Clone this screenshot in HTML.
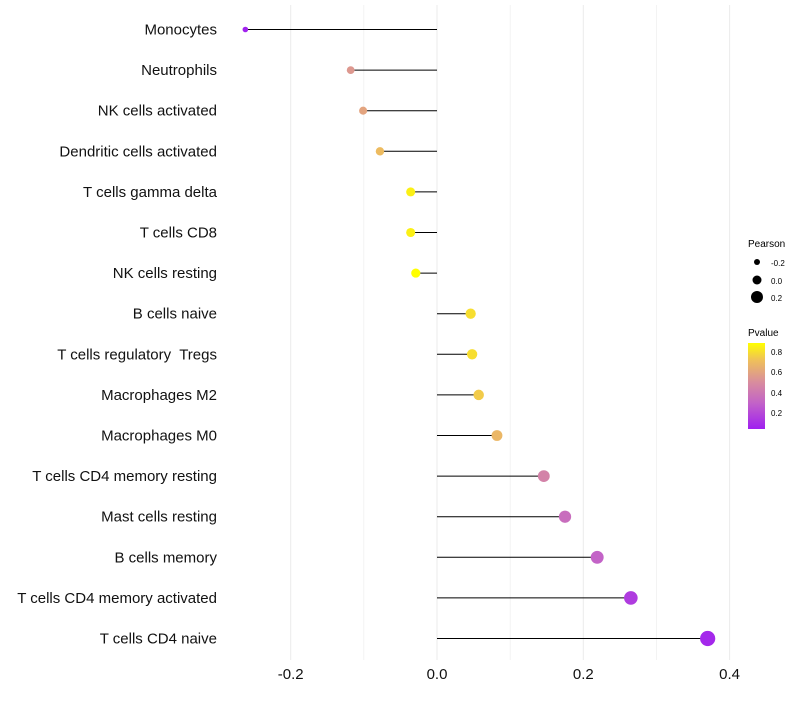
<!DOCTYPE html>
<html><head><meta charset="utf-8"><style>
body{margin:0;background:#fff;font-family:"Liberation Sans",sans-serif}
#ylabels text{white-space:pre}
</style></head><body>
<svg id="chart" width="800" height="700" xmlns="http://www.w3.org/2000/svg" font-family="Liberation Sans, sans-serif">
<defs><linearGradient id="pg" x1="0" y1="1" x2="0" y2="0">
<stop offset="0" stop-color="#a020f0"/><stop offset="0.3" stop-color="#c262c8"/><stop offset="0.55" stop-color="#d98e9c"/><stop offset="0.8" stop-color="#efc05a"/><stop offset="1" stop-color="#ffff00"/></linearGradient></defs>
<g id="grid"></g>
<g id="marks"></g>
<g id="ylabels"></g>
<g id="xlabels"></g>
<g>
<text x="748" y="247" font-size="10">Pearson</text>
<circle cx="757" cy="262" r="3" fill="#000"/>
<text x="771" y="266" font-size="8">-0.2</text>
<circle cx="757" cy="280" r="4.5" fill="#000"/>
<text x="771" y="284" font-size="8">0.0</text>
<circle cx="757" cy="297" r="6" fill="#000"/>
<text x="771" y="301" font-size="8">0.2</text>
</g>
<g>
<text x="748" y="336" font-size="10">Pvalue</text>
<rect x="748" y="343" width="17" height="86" fill="url(#pg)"/>
<text x="771" y="355" font-size="8">0.8</text>
<text x="771" y="375" font-size="8">0.6</text>
<text x="771" y="396" font-size="8">0.4</text>
<text x="771" y="416" font-size="8">0.2</text>
</g>
</svg>
<script>
const categories=["Monocytes","Neutrophils","NK cells activated","Dendritic cells activated","T cells gamma delta","T cells CD8","NK cells resting","B cells naive","T cells regulatory  Tregs ","Macrophages M2","Macrophages M0","T cells CD4 memory resting","Mast cells resting","B cells memory","T cells CD4 memory activated","T cells CD4 naive"];
const pearson=[-0.262,-0.118,-0.101,-0.078,-0.036,-0.036,-0.029,0.046,0.048,0.057,0.082,0.146,0.175,0.219,0.265,0.370];
const pvalues=[0.05,0.55,0.6,0.7,0.85,0.85,0.9,0.8,0.8,0.75,0.68,0.45,0.35,0.3,0.15,0.07];
const xTicks=[-0.2,0.0,0.2,0.4];
const xTickLabels=["-0.2","0.0","0.2","0.4"];
const minorTicks=[-0.1,0.1,0.3];
const NS="http://www.w3.org/2000/svg";
const xs=v=>437+v*731.5;
const ys=i=>29.5+i*40.6;
const stops=[[0,[160,32,240]],[0.3,[194,98,200]],[0.55,[217,142,156]],[0.8,[239,192,90]],[1,[255,255,0]]];
function col(p){let t=(p-0.04)/0.85;t=Math.max(0,Math.min(1,t));for(let k=1;k<stops.length;k++){if(t<=stops[k][0]){const a=stops[k-1],b=stops[k],f=(t-a[0])/(b[0]-a[0]);return "rgb("+a[1].map((c,j)=>Math.round(c+(b[1][j]-c)*f)).join(",")+")";}}return "rgb(255,255,0)";}
function mk(tag,attrs,parent){const e=document.createElementNS(NS,tag);for(const k in attrs)e.setAttribute(k,attrs[k]);document.getElementById(parent).appendChild(e);return e;}
const all=xTicks.concat(minorTicks);
all.forEach(v=>{const l=mk("line",{x1:xs(v),x2:xs(v),y1:5,y2:660,stroke:"#ebebeb","stroke-width":xTicks.includes(v)?1:0.6},"grid");

});
xTicks.forEach((v,i)=>{const t=mk("text",{x:xs(v),y:679,"font-size":15,"text-anchor":"middle",fill:"#111"},"xlabels");t.textContent=xTickLabels[i];

});
categories.forEach((c,i)=>{const y=ys(i);
const t=mk("text",{x:217,y:y+5,"font-size":15,"text-anchor":"end",fill:"#111"},"ylabels");t.textContent=c.replace(/\s+$/,"");


const l=mk("line",{x1:xs(0),x2:xs(pearson[i]),y1:y,y2:y,stroke:"#000","stroke-width":1},"marks");


const r=Math.max(1.6,4.8+7.6*pearson[i]);
const d=mk("circle",{cx:xs(pearson[i]),cy:y,r:r,fill:col(pvalues[i])},"marks");

});
</script>
</body></html>
